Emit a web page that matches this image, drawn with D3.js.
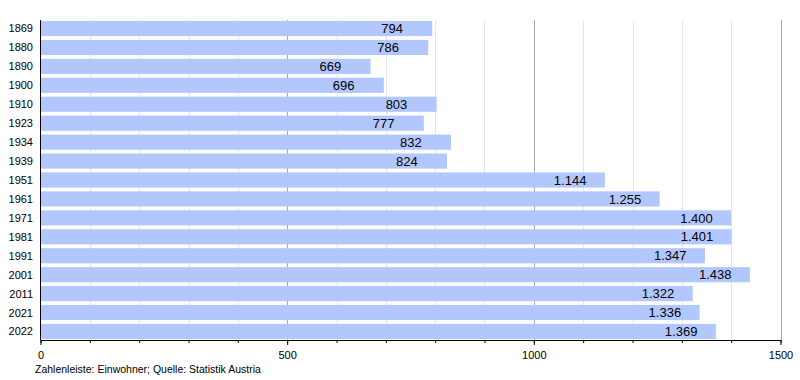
<!DOCTYPE html>
<html>
<head>
<meta charset="utf-8">
<script src="https://cdn.jsdelivr.net/npm/d3@7"></script>
<style>
  body { margin: 0; background: #fff; }
  svg { font-family: "Liberation Sans", Arial, sans-serif; }
</style>
</head>
<body>
<div id="chart"></div>
<script>
// Einwohnerentwicklung
var years = ["1869", "1880", "1890", "1900", "1910", "1923", "1934", "1939", "1951",
  "1961", "1971", "1981", "1991", "2001", "2011", "2021", "2022"];
var population = [794, 786, 669, 696, 803, 777, 832, 824, 1144,
  1255, 1400, 1401, 1347, 1438, 1322, 1336, 1369];
var majorTicks = [0, 500, 1000, 1500];
var minorTicks = d3.range(0, 1501, 100);
var caption = "Zahlenleiste: Einwohner; Quelle: Statistik Austria";

var width = 800, height = 380;
var plot = { left: 40.5, right: 780.5, top: 20, bottom: 340 };

var de = d3.formatLocale({ decimal: ",", thousands: ".", grouping: [3], currency: ["", " €"] });
var fmt = de.format(",d");

var data = years.map(function (y, i) { return { year: y, value: population[i] }; });

var x = d3.scaleLinear()
  .domain([0, 1500])
  .range([plot.left, plot.right]);

var y = d3.scaleBand()
  .domain(years)
  .range([plot.top, plot.bottom])
  .paddingInner(0.2)
  .paddingOuter(0.05);

var svg = d3.select("#chart").append("svg")
  .attr("width", width)
  .attr("height", height);

// grid lines
svg.append("g").attr("class", "grid minor")
  .selectAll("line")
  .data(minorTicks.filter(function (d) { return d % 500 !== 0; }))
  .enter().append("line")
  .attr("x1", function (d) { return Math.round(x(d)) + 0.5; })
  .attr("x2", function (d) { return Math.round(x(d)) + 0.5; })
  .attr("y1", plot.top)
  .attr("y2", plot.bottom)
  .attr("stroke", "#e6e6e6");

svg.append("g").attr("class", "grid major")
  .selectAll("line")
  .data(majorTicks.filter(function (d) { return d > 0; }))
  .enter().append("line")
  .attr("x1", function (d) { return Math.round(x(d)) + 0.5; })
  .attr("x2", function (d) { return Math.round(x(d)) + 0.5; })
  .attr("y1", plot.top)
  .attr("y2", plot.bottom)
  .attr("stroke", "#a8a8a8");

// bars
svg.append("g").selectAll("rect")
  .data(data)
  .enter().append("rect")
  .attr("x", x(0))
  .attr("y", function (d) { return y(d.year); })
  .attr("width", function (d) { return x(d.value) - x(0); })
  .attr("height", y.bandwidth())
  .attr("fill", "#b3c7ff");

// value labels
svg.append("g").selectAll("text")
  .data(data)
  .enter().append("text")
  .attr("x", function (d) { return x(d.value) - 51; })
  .attr("y", function (d) { return y(d.year) + y.bandwidth() / 2; })
  .attr("dy", "0.36em")
  .attr("font-size", 13)
  .attr("fill", "#000")
  .text(function (d) { return fmt(d.value); });

// year labels
svg.append("g").selectAll("text")
  .data(data)
  .enter().append("text")
  .attr("x", 33)
  .attr("y", function (d) { return y(d.year) + y.bandwidth() / 2; })
  .attr("dy", "0.36em")
  .attr("text-anchor", "end")
  .attr("font-size", 11)
  .text(function (d) { return d.year; });

// x axis: minor ticks, then major ticks with labels
svg.append("g")
  .attr("transform", "translate(0," + plot.bottom + ")")
  .call(d3.axisBottom(x).tickValues(minorTicks).tickSize(3).tickFormat(""))
  .call(function (g) { g.select(".domain").remove(); });

svg.append("g")
  .attr("class", "x axis")
  .attr("transform", "translate(0," + plot.bottom + ")")
  .call(d3.axisBottom(x).tickValues(majorTicks).tickFormat(d3.format("d"))
    .tickSize(5).tickSizeOuter(0).tickPadding(6))
  .call(function (g) {
    g.select(".domain").attr("stroke", "#000");
    g.selectAll(".tick text").attr("font-size", 11).attr("font-family", null);
  });

// y axis line
svg.append("line")
  .attr("x1", plot.left).attr("x2", plot.left)
  .attr("y1", plot.top).attr("y2", plot.bottom)
  .attr("stroke", "#000");

svg.append("text")
  .attr("x", 35)
  .attr("y", 373)
  .attr("font-size", 10.5)
  .text(caption);
</script>
</body>
</html>
